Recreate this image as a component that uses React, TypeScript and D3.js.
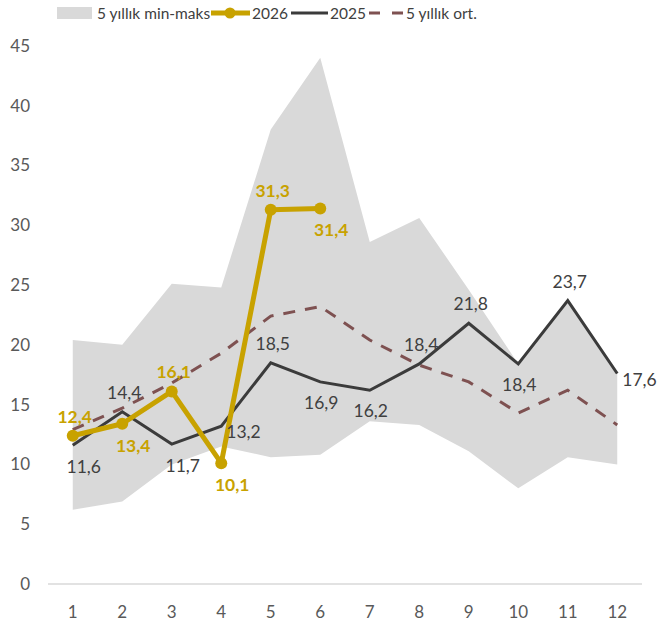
import React from "react";
import * as d3 from "d3";

const months = [1, 2, 3, 4, 5, 6, 7, 8, 9, 10, 11, 12];
const bandMax = [20.4, 20.0, 25.1, 24.8, 38.0, 44.0, 28.6, 30.6, 24.6, 18.4, 23.7, 17.6];
const bandMin = [6.2, 6.9, 10.0, 11.5, 10.6, 10.8, 13.6, 13.3, 11.1, 8.0, 10.6, 10.0];
const avg5 = [12.9, 14.7, 16.8, 19.3, 22.4, 23.2, 20.4, 18.3, 16.9, 14.3, 16.2, 13.3];
const s2026 = [12.4, 13.4, 16.1, 10.1, 31.3, 31.4];
const s2025 = [11.6, 14.4, 11.7, 13.2, 18.5, 16.9, 16.2, 18.4, 21.8, 18.4, 23.7, 17.6];
const yTicks = [0, 5, 10, 15, 20, 25, 30, 35, 40, 45];

// label placement (layout hints)
const place2026 = ["above", "belowR", "above", "belowR", "above", "belowR"];
const place2025 = ["belowR", "above", "belowR", "right", "above", "below", "below", "above", "above", "below", "above", "right"];

const W = 657;
const H = 630;
const GOLD = "#C8A200";
const DARK = "#3B3B3B";
const AVG = "#7E5151";
const BAND = "#D9D9D9";
const FONT = "Lato, 'Open Sans', sans-serif";

const fmt = (v: number) => v.toFixed(1).replace(".", ",");

export default function App() {
  const x = d3.scaleBand<number>().domain(months).range([48, 642]);
  const cx = (m: number) => (x(m) as number) + x.bandwidth() / 2;
  const y = d3.scaleLinear().domain([0, 45]).range([584, 45.8]);

  const area = d3
    .area<number>()
    .x((_, i) => cx(months[i]))
    .y0((_, i) => y(bandMin[i]))
    .y1((_, i) => y(bandMax[i]));
  const line = d3
    .line<number>()
    .x((_, i) => cx(months[i]))
    .y((d) => y(d));

  const off = (p: string) => {
    switch (p) {
      case "above":
        return { dx: 2, dy: -19, anchor: "middle" };
      case "below":
        return { dx: 1, dy: 21, anchor: "middle" };
      case "belowR":
        return { dx: 11, dy: 22, anchor: "middle" };
      case "right":
        return { dx: 5, dy: 6, anchor: "start" };
      default:
        return { dx: 0, dy: 0, anchor: "middle" };
    }
  };

  const LF = 15.5;

  return (
    <svg
      width={W}
      height={H}
      style={{ position: "absolute", left: 0, top: 0, background: "#fff" }}
      fontFamily={FONT}
    >
      {/* legend */}
      <g>
        <rect x={57} y={7} width={35} height={12} fill={BAND} />
        <text x={97} y={18.5} fontSize={LF} fill="#404040">5 yıllık min-maks</text>
        <line x1={211} x2={250} y1={13} y2={13} stroke={GOLD} strokeWidth={5} />
        <circle cx={230} cy={13} r={5.5} fill={GOLD} />
        <text x={252} y={18.5} fontSize={LF} fill="#404040">2026</text>
        <line x1={291} x2={328} y1={13} y2={13} stroke={DARK} strokeWidth={3} />
        <text x={330} y={18.5} fontSize={LF} fill="#404040">2025</text>
        <line x1={369} x2={403} y1={13} y2={13} stroke={AVG} strokeWidth={3} strokeDasharray="11,12" />
        <text x={406} y={18.5} fontSize={LF} fill="#404040">5 yıllık ort.</text>
      </g>

      {/* band */}
      <path d={area(months) || ""} fill={BAND} />

      {/* axis */}
      <line x1={48} x2={642} y1={y(0)} y2={y(0)} stroke="#D9D9D9" strokeWidth={1.5} />
      {yTicks.map((t) => (
        <text key={t} x={30} y={y(t) + 6} textAnchor="end" fontSize={17} fill="#595959">
          {t}
        </text>
      ))}
      {months.map((m) => (
        <text key={m} x={cx(m)} y={618} textAnchor="middle" fontSize={17} fill="#595959">
          {m}
        </text>
      ))}

      {/* 5 yr avg */}
      <path d={line(avg5) || ""} fill="none" stroke={AVG} strokeWidth={3} strokeDasharray="12,10" />

      {/* 2025 */}
      <path d={line(s2025) || ""} fill="none" stroke={DARK} strokeWidth={3} strokeLinejoin="miter" />

      {/* 2026 */}
      <path d={line(s2026) || ""} fill="none" stroke={GOLD} strokeWidth={5} strokeLinejoin="round" />
      {s2026.map((v, i) => (
        <circle key={i} cx={cx(months[i])} cy={y(v)} r={6} fill={GOLD} />
      ))}

      {/* labels 2025 */}
      {s2025.map((v, i) => {
        const o = off(place2025[i]);
        return (
          <text
            key={"a" + i}
            x={cx(months[i]) + o.dx}
            y={y(v) + o.dy + 6}
            textAnchor={o.anchor}
            fontSize={17.5}
            fill="#404040"
          >
            {fmt(v)}
          </text>
        );
      })}
      {/* labels 2026 */}
      {s2026.map((v, i) => {
        const o = off(place2026[i]);
        return (
          <text
            key={"b" + i}
            x={cx(months[i]) + o.dx}
            y={y(v) + o.dy + 6}
            textAnchor={o.anchor}
            fontSize={17.5}
            fontWeight="bold"
            fill={GOLD}
          >
            {fmt(v)}
          </text>
        );
      })}
    </svg>
  );
}
